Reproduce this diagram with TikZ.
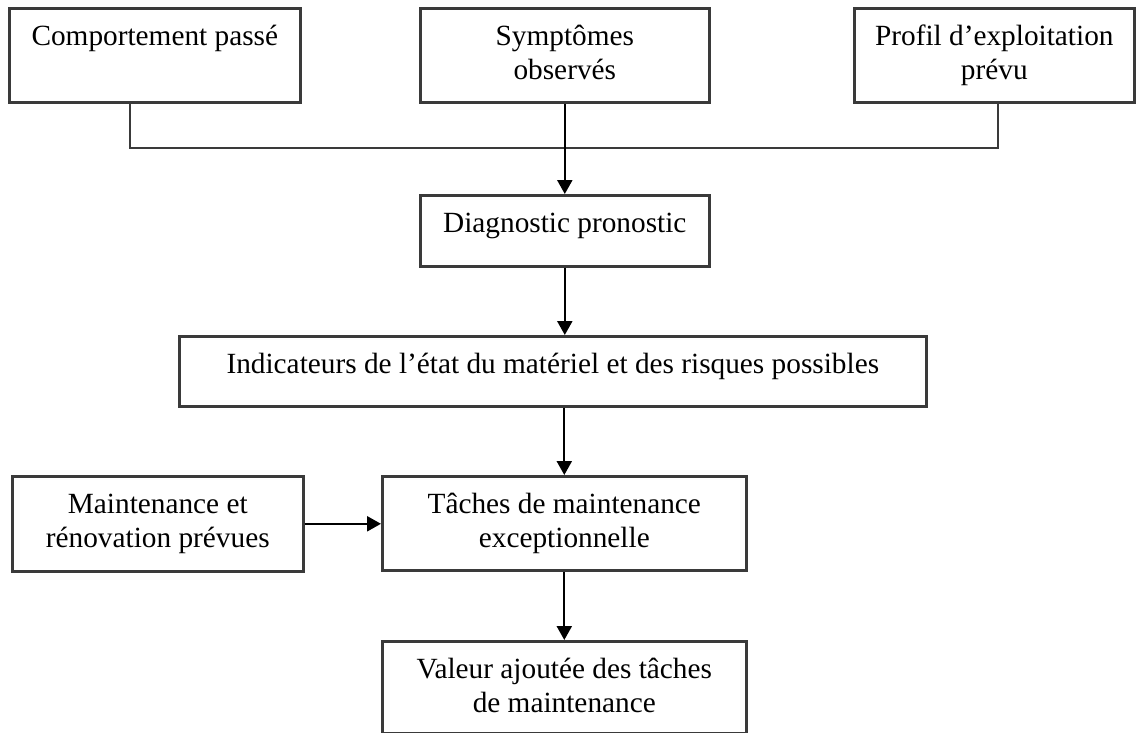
\documentclass[tikz,border=0pt]{standalone}
\usepackage{fontspec}
\setmainfont{Liberation Serif}
\usetikzlibrary{arrows.meta}
\definecolor{boxgray}{HTML}{3A3A3A}
\tikzset{
  box/.style={draw=boxgray, line width=2.6pt, inner sep=0pt, anchor=north west,
              font=\fontsize{29.3pt}{34.5pt}\selectfont},
  link/.style={draw=boxgray, line width=2.6pt},
  flow/.style={draw=black, line width=2.3pt, -{Triangle[width=15pt,length=14pt]}},
}
% fixed-size box with its text set from the top, centred line by line
\newcommand{\boxtext}[3]{\parbox[t][#2][t]{#1}{\centering\rule{0pt}{37pt}#3}}
\begin{document}
\begin{tikzpicture}[x=1pt,y=1pt]
  \useasboundingbox (0,0) rectangle (1140,-733);

  % sources
  \node[box] (past) at (8,-7)   {\boxtext{291pt}{94pt}{Comportement passé}};
  \node[box] (symp) at (419,-7) {\boxtext{289pt}{94pt}{Symptômes\\observés}};
  \node[box] (prof) at (853,-7) {\boxtext{280pt}{94pt}{Profil d’exploitation\\prévu}};

  % chain
  \node[box] (diag) at (419,-194) {\boxtext{289pt}{71pt}{Diagnostic pronostic}};
  \node[box] (ind)  at (178,-335) {\boxtext{747pt}{70pt}{Indicateurs de l’état du matériel et des risques possibles}};
  \node[box] (maint) at (11,-475) {\boxtext{291pt}{95pt}{Maintenance et\\rénovation prévues}};
  \node[box] (task)  at (381,-475) {\boxtext{364pt}{94pt}{Tâches de maintenance\\exceptionnelle}};
  \node[box] (value) at (381,-640) {\boxtext{364pt}{92pt}{Valeur ajoutée des tâches\\de maintenance}};

  % bracket joining the outer sources
  \coordinate (merge) at (563,-148);
  \draw[link] ([xshift=122pt]past.south west) |- (merge) -| ([xshift=145pt]prof.south west);

  % arrows
  \draw[flow] (symp.south) -- (diag.north);
  \draw[flow] (diag.south) -- (diag.south |- ind.north);
  \draw[flow] (task.north |- ind.south) -- (task.north);
  \draw[flow] (maint.east) -- (maint.east -| task.west);
  \draw[flow] (task.south) -- (value.north);
\end{tikzpicture}
\end{document}
